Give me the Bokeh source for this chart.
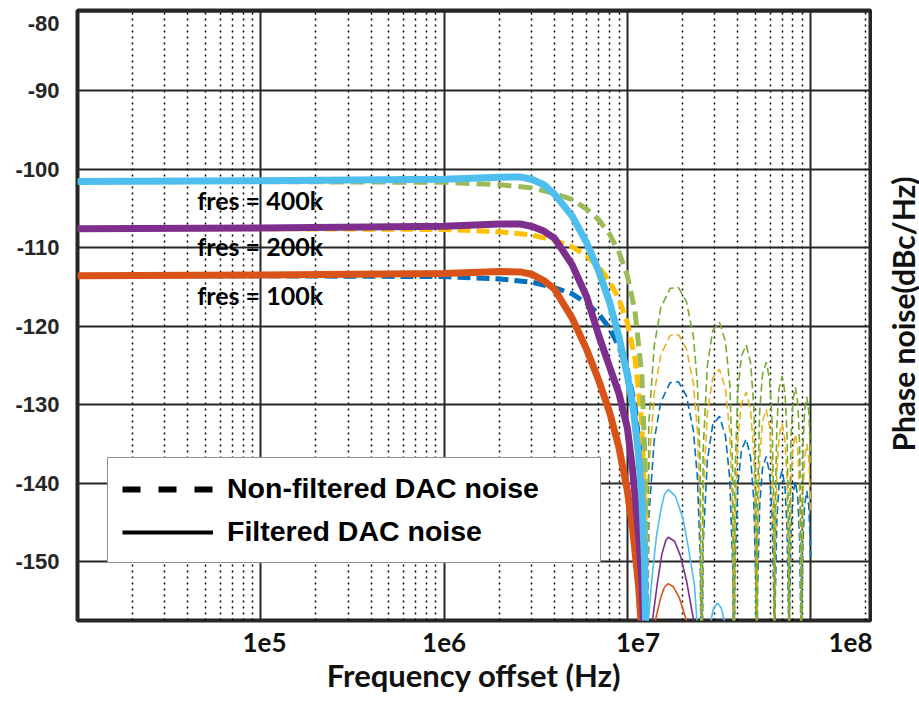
from bokeh.plotting import figure
from bokeh.layouts import row
from bokeh.models import (FixedTicker, Legend, LegendItem, CustomJSTickFormatter, Div)
from bokeh.core.properties import value
from bokeh.embed import file_html
from bokeh.resources import INLINE

# ---------------- data ----------------
# main lobe, non-filtered (dashed) curves
f_dash_main = [1e4, 1e5, 1e6, 2e6, 3e6, 4e6, 5e6, 6e6, 7e6, 8e6, 9e6, 1e7, 1.1e7, 1.2e7, 1.25e7, 1.27e7]
nf400_main = [-101.6, -101.6, -101.7, -102.0, -102.4, -103.1, -103.9, -105.1, -106.5, -108.3, -110.6,
              -113.6, -118.1, -126.4, -137.5, -175]
nf200_main = [-107.6, -107.6, -107.7, -108.0, -108.4, -109.1, -109.9, -111.1, -112.5, -114.3, -116.6,
              -119.6, -124.1, -132.4, -143.5, -175]
nf100_main = [-113.6, -113.6, -113.7, -114.0, -114.4, -115.1, -115.9, -117.1, -118.5, -120.3, -122.6,
              -125.6, -130.1, -138.4, -149.5, -175]

# side lobes, non-filtered (thin dashed) curves
f_dash_lobes = [1.27e7, 1.31e7, 1.40e7, 1.52e7, 1.71e7, 1.90e7, 2.10e7, 2.29e7, 2.41e7, 2.50e7, 2.54e7,
                2.59e7, 2.73e7, 2.92e7, 3.18e7, 3.43e7, 3.62e7, 3.76e7, 3.81e7,
                3.86e7, 4.00e7, 4.19e7, 4.45e7, 4.70e7, 4.89e7, 5.03e7, 5.08e7,
                5.13e7, 5.27e7, 5.46e7, 5.72e7, 5.97e7, 6.16e7, 6.30e7, 6.35e7,
                6.40e7, 6.54e7, 6.73e7, 6.99e7, 7.24e7, 7.43e7, 7.57e7, 7.62e7,
                7.67e7, 7.81e7, 8.00e7, 8.26e7, 8.51e7, 8.70e7, 8.84e7, 8.89e7,
                8.94e7, 9.08e7, 9.27e7, 9.53e7, 9.78e7, 1.0e8]
nf400_lobes = [-175, -132.3, -122.6, -117.7, -115.2, -115.1, -116.9, -121.3, -127.3, -138.0, -175,
               -135.8, -125.1, -120.6, -119.5, -122.0, -127.5, -139.0, -175,
               -139.2, -128.4, -123.8, -122.4, -124.7, -130.1, -141.5, -175,
               -141.7, -130.8, -126.1, -124.6, -126.8, -132.1, -143.5, -175,
               -143.6, -132.6, -127.9, -126.4, -128.5, -133.7, -145.1, -175,
               -145.2, -134.2, -129.4, -127.8, -129.9, -135.1, -146.4, -175,
               -146.5, -135.5, -130.7, -129.0, -131.1, -137.5]
nf200_lobes = [-175, -138.3, -128.6, -123.7, -121.2, -121.1, -122.9, -127.3, -133.3, -144.0, -175,
               -141.8, -131.1, -126.6, -125.5, -128.0, -133.5, -145.0, -175,
               -145.2, -134.4, -129.8, -128.4, -130.7, -136.1, -147.5, -175,
               -147.7, -136.8, -132.1, -130.6, -132.8, -138.1, -149.5, -175,
               -149.6, -138.6, -133.9, -132.4, -134.5, -139.7, -151.1, -175,
               -151.2, -140.2, -135.4, -133.8, -135.9, -141.1, -152.4, -175,
               -152.5, -141.5, -136.7, -135.0, -137.1, -143.5]
nf100_lobes = [-175, -144.3, -134.6, -129.7, -127.2, -127.1, -128.9, -133.3, -139.3, -150.0, -175,
               -147.8, -137.1, -132.6, -131.5, -134.0, -139.5, -151.0, -175,
               -151.2, -140.4, -135.8, -134.4, -136.7, -142.1, -153.5, -175,
               -153.7, -142.8, -138.1, -136.6, -138.8, -144.1, -155.5, -175,
               -155.6, -144.6, -139.9, -138.4, -140.5, -145.7, -157.1, -175,
               -157.2, -146.2, -141.4, -139.8, -141.9, -147.1, -158.4, -175,
               -158.5, -147.5, -142.7, -141.0, -143.1, -149.5]

# main lobe, filtered (solid) curves
f_solid_main = [1e4, 1e5, 1e6, 2e6, 2.6e6, 3e6, 3.5e6, 4e6, 5e6, 6e6, 7e6, 8e6, 9e6, 1e7,
                1.07e7, 1.15e7, 1.2e7, 1.24e7, 1.26e7, 1.27e7]
f400_main = [-101.6, -101.5, -101.3, -101.05, -101.0, -101.3, -102.0, -103.2, -106.0, -109.4, -113.1,
             -117.0, -121.4, -126.3, -130.0, -136.3, -142.0, -150.0, -159.5, -175]
f200_main = [-107.6, -107.5, -107.3, -107.0, -107.0, -107.3, -107.9, -108.8, -112.2, -116.3, -121.3,
             -125.2, -128.6, -133.0, -138.5, -146.5, -152.5, -161.0, -168.0, -175]
f100_main = [-113.6, -113.5, -113.3, -113.05, -113.1, -113.4, -114.2, -115.3, -119.0, -123.0, -127.0,
             -131.0, -135.5, -141.0, -146.0, -153.0, -159.5, -166.0, -170.0, -175]

# side lobes, filtered (thin solid) curves
f400_lobe_f = [1.27e7, 1.30e7, 1.37e7, 1.44e7, 1.52e7, 1.59e7, 1.67e7, 1.83e7, 2.01e7, 2.15e7, 2.32e7,
               2.42e7, 2.54e7, 2.84e7, 2.95e7, 3.10e7, 3.25e7, 3.40e7, 3.81e7]
f400_lobe_db = [-175, -157.5, -151.5, -146.8, -143.5, -141.5, -140.8, -141.7, -144.5, -148.2, -152.9,
                -159.0, -175, -157.8, -155.9, -155.3, -155.9, -157.8, -175]
f200_lobe_f = [1.27e7, 1.37e7, 1.46e7, 1.54e7, 1.62e7, 1.67e7, 1.81e7, 1.95e7, 2.10e7, 2.30e7, 2.54e7]
f200_lobe_db = [-175, -157.5, -152.6, -149.1, -147.3, -146.9, -147.4, -149.3, -152.4, -157.5, -175]
f100_lobe_f = [1.27e7, 1.42e7, 1.52e7, 1.59e7, 1.67e7, 1.78e7, 1.92e7, 2.10e7, 2.54e7]
f100_lobe_db = [-175, -157.5, -154.6, -153.3, -152.8, -153.2, -154.6, -157.5, -175]

curve_labels = ["fres = 400k", "fres = 200k", "fres = 100k"]
x_grid_ticks = [1e4, 1e5, 1e6, 1e7, 1e8]
x_tick_labels = ["1e5", "1e6", "1e7", "1e8"]
y_ticks = [-150, -140, -130, -120, -110, -100, -90, -80]
y_tick_labels = ["-150", "-140", "-130", "-120", "-110", "-100", "-90", "-80"]
legend_labels = ["Non-filtered DAC noise", "Filtered DAC noise"]
y_title = "Phase noise(dBc/Hz)"

# label anchor positions (as placed in the reference picture)
x_label_pos = [1.047e5, 1.0e6, 1.143e7, 1.67e8]
y_label_pos = [-150, -140, -130, -120, -110, -100, -90, -81.46]

# ---------------- figure ----------------
p = figure(width=872, height=701, x_axis_type="log", x_range=(1e4, 2.12e8), y_range=(-157.5, -79.81),
           output_backend="svg", toolbar_location=None,
           min_border_left=77, min_border_right=2, min_border_top=10, min_border_bottom=81)
p.background_fill_color = "white"
p.border_fill_color = "white"
p.outline_line_color = "#262626"
p.outline_line_width = 4

minor = [m * 10 ** e for e in range(4, 9) for m in range(2, 10)]
p.xaxis.ticker = FixedTicker(ticks=x_label_pos, minor_ticks=[])
p.xaxis.formatter = CustomJSTickFormatter(args=dict(tvals=x_label_pos, tlabs=x_tick_labels), code="""
for (let i = 0; i < tvals.length; i++) {
  if (Math.abs(tick - tvals[i]) < 1e-6 * Math.abs(tvals[i])) return tlabs[i];
}
return '';
""")
p.yaxis.ticker = FixedTicker(ticks=y_label_pos, minor_ticks=[])
p.yaxis.formatter = CustomJSTickFormatter(args=dict(tvals=y_label_pos, tlabs=y_tick_labels), code="""
for (let i = 0; i < tvals.length; i++) {
  if (Math.abs(tick - tvals[i]) < 1e-6) return tlabs[i];
}
return '';
""")
p.xgrid.ticker = FixedTicker(ticks=x_grid_ticks, minor_ticks=minor)
p.ygrid.ticker = FixedTicker(ticks=y_ticks, minor_ticks=[])

for ax in (p.xaxis[0], p.yaxis[0]):
    ax.axis_line_color = None
    ax.major_tick_line_color = None
    ax.minor_tick_line_color = None
    ax.major_tick_out = 0
    ax.major_tick_in = 0
    ax.minor_tick_out = 0
    ax.minor_tick_in = 0

p.xaxis.major_label_standoff = 12
p.xaxis.major_label_text_font = "Lato"
p.xaxis.major_label_text_font_style = "bold"
p.xaxis.major_label_text_font_size = "26px"
p.xaxis.major_label_text_color = "#111111"
p.xaxis.axis_label = "Frequency offset (Hz)"
p.xaxis.axis_label_text_font = "Lato"
p.xaxis.axis_label_text_font_style = "bold"
p.xaxis.axis_label_text_font_size = "31px"
p.xaxis.axis_label_text_color = "#111111"
p.xaxis.axis_label_standoff = 1

p.yaxis.major_label_standoff = 18
p.yaxis.major_label_text_font = "Liberation Sans"
p.yaxis.major_label_text_font_style = "bold"
p.yaxis.major_label_text_font_size = "22px"
p.yaxis.major_label_text_color = "#262626"

p.xgrid.grid_line_color = "#262626"
p.xgrid.grid_line_width = 2
p.xgrid.minor_grid_line_color = "black"
p.xgrid.minor_grid_line_width = 1.5
p.xgrid.minor_grid_line_dash = "2 4"
p.ygrid.grid_line_color = "#262626"
p.ygrid.grid_line_width = 2

# thin side lobes (non-filtered)
p.line(f_dash_lobes, nf100_lobes, line_color="#0072BD", line_width=1.6, line_dash="8 4")
p.line(f_dash_lobes, nf200_lobes, line_color="#EDB120", line_width=1.6, line_dash="8 4")
p.line(f_dash_lobes, nf400_lobes, line_color="#77AC30", line_width=1.6, line_dash="8 4")
# thick main lobes (non-filtered)
p.line(f_dash_main, nf100_main, line_color="#0070C0", line_width=5, line_dash="13 6")
p.line(f_dash_main, nf200_main, line_color="#FFC000", line_width=5, line_dash="13 6")
p.line(f_dash_main, nf400_main, line_color="#9BBB59", line_width=5, line_dash="14 7")
# filtered side lobes
p.line(f400_lobe_f, f400_lobe_db, line_color="#4DBEEE", line_width=1.6)
p.line(f200_lobe_f, f200_lobe_db, line_color="#7E2F8E", line_width=1.6)
p.line(f100_lobe_f, f100_lobe_db, line_color="#D95319", line_width=1.6)
# filtered main lobes
p.line(f_solid_main, f100_main, line_color="#D95319", line_width=7)
p.line(f_solid_main, f200_main, line_color="#7E2F8E", line_width=7)
p.line(f_solid_main, f400_main, line_color="#4DBEEE", line_width=7)

# curve labels
p.text(x=[4.5e4, 4.5e4, 4.5e4], y=[-103.9, -109.75, -116.1], text=curve_labels,
       text_font=value("Lato"), text_font_style="bold", text_font_size="25px",
       text_align="left", text_baseline="middle", text_color="black")

# legend (black samples; hidden renderers that only supply the legend glyphs)
leg_dash = p.line(f_dash_main, nf400_main, line_color="black", line_width=6, line_dash="18 18", visible=False)
leg_solid = p.line(f_solid_main, f400_main, line_color="black", line_width=4, visible=False)
legend = Legend(items=[LegendItem(label=legend_labels[0], renderers=[leg_dash]),
                       LegendItem(label=legend_labels[1], renderers=[leg_solid])],
                location=(30, 57))
legend.border_line_color = "#262626"
legend.border_line_width = 1.5
legend.background_fill_color = "white"
legend.background_fill_alpha = 1.0
legend.label_text_font = "Liberation Sans"
legend.label_text_font_style = "bold"
legend.label_text_font_size = "28.5px"
legend.label_text_color = "black"
legend.glyph_width = 91
legend.glyph_height = 32
legend.label_height = 32
legend.label_width = 359
legend.padding = 14
legend.spacing = 10
legend.label_standoff = 14
legend.margin = 0
legend.click_policy = "none"
p.add_layout(legend)

# right-hand title (vertical, reads bottom-to-top), in a narrow panel beside the plot
title_html = ('<div style="position:relative;width:47px;height:701px;">'
              '<span style="position:absolute;left:31px;top:314px;'
              'writing-mode:vertical-rl;transform:translate(-50%,-50%) rotate(180deg);'
              'white-space:nowrap;font-family:Lato;font-weight:bold;font-size:30px;'
              'color:#111111;line-height:1;">'
              + y_title + '</span></div>')
side = Div(text=title_html, width=47, height=701, margin=(0, 0, 0, 0))

layout = row(p, side, spacing=0)
open("out.html", "w").write(file_html(layout, INLINE))
